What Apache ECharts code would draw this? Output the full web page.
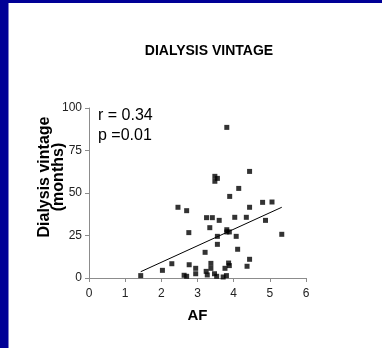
<!DOCTYPE html>
<html>
<head>
<meta charset="utf-8">
<script src="https://cdn.jsdelivr.net/npm/echarts@6/dist/echarts.min.js"></script>
<style>
  html, body { margin: 0; padding: 0; background: #ffffff; }
  #chart { width: 382px; height: 348px; }
</style>
</head>
<body>
<div id="chart"></div>
<script>
// AF vs dialysis vintage (months), one entry per patient
const afValues = [
  1.43, 2.03, 2.29, 2.46, 2.70, 2.76, 2.77, 2.63, 2.70, 2.95,
  2.95, 3.21, 3.25, 3.24, 3.27, 3.34, 3.37, 3.37, 3.41, 3.48,
  3.48, 3.55, 3.47, 3.53, 3.55, 3.55, 3.60, 3.71, 3.76, 3.81,
  3.81, 3.81, 3.80, 3.86, 3.88, 3.89, 3.88, 4.03, 4.07, 4.11,
  4.14, 4.35, 4.37, 4.44, 4.44, 4.44, 4.80, 4.88, 5.06, 5.33
];
const vintageMonths = [
  1.4, 4.5, 8.4, 41.6, 39.6, 26.7, 7.8, 1.6, 1.0, 5.7,
  2.5, 15.1, 35.5, 3.9, 1.8, 29.6, 8.6, 5.7, 35.5, 59.8,
  56.9, 58.6, 2.5, 1.0, 24.5, 19.8, 33.9, 0.6, 5.7, 88.6,
  28.4, 27.1, 1.4, 8.8, 7.3, 48.0, 27.1, 35.7, 24.5, 16.9,
  52.7, 35.7, 6.9, 62.7, 41.6, 11.0, 44.5, 33.9, 44.7, 25.7
];
// Regression line end points (AF, months)
const fitAF = [1.43, 5.33];
const fitMonths = [3.7, 41.6];

const xTicks = [0, 1, 2, 3, 4, 5, 6];
const yTicks = [0, 25, 50, 75, 100];
const statLines = ['r = 0.34', 'p =0.01'];

const points = afValues.map((a, i) => [a, vintageMonths[i]]);
const fit = fitAF.map((a, i) => [a, fitMonths[i]]);

const chart = echarts.init(document.getElementById('chart'), null, { renderer: 'canvas' });
const FONT = 'Liberation Sans, Arial, sans-serif';
const axisGrey = '#8c8c8c';

chart.setOption({
  animation: false,
  backgroundColor: '#ffffff',
  title: {
    text: 'DIALYSIS VINTAGE',
    left: 204, top: 39,
    textAlign: 'center',
    textStyle: { fontFamily: FONT, fontSize: 14, fontWeight: 'bold', color: '#000' }
  },
  grid: { left: 89, right: 76, top: 108, bottom: 70 },
  xAxis: {
    type: 'value',
    min: xTicks[0], max: xTicks[xTicks.length - 1], interval: 1,
    name: 'AF', nameLocation: 'middle', nameGap: 30,
    nameTextStyle: { fontFamily: FONT, fontSize: 15, fontWeight: 'bold', color: '#000' },
    axisLine: { show: true, onZero: false, lineStyle: { color: axisGrey, width: 1 } },
    axisTick: { show: true, inside: false, length: 4, lineStyle: { color: axisGrey } },
    axisLabel: { fontFamily: FONT, fontSize: 12, color: '#222', margin: 10 },
    splitLine: { show: false }
  },
  yAxis: {
    type: 'value',
    min: yTicks[0], max: yTicks[yTicks.length - 1], interval: 25,
    axisLine: { show: true, onZero: false, lineStyle: { color: axisGrey, width: 1 } },
    axisTick: { show: true, inside: false, length: 4, lineStyle: { color: axisGrey } },
    axisLabel: { fontFamily: FONT, fontSize: 12, color: '#222', margin: 7 },
    splitLine: { show: false }
  },
  series: [
    {
      type: 'line',
      data: fit,
      symbol: 'none',
      lineStyle: { color: '#000', width: 1 },
      z: 2
    },
    {
      type: 'scatter',
      data: points,
      symbol: 'rect',
      symbolSize: 5,
      itemStyle: { color: '#000' },
      z: 3
    }
  ],
  graphic: [
    // frame strips
    { type: 'rect', left: 0, top: 0, shape: { width: 8.5, height: 348 }, style: { fill: '#000096' } },
    { type: 'rect', left: 0, top: 0, shape: { width: 382, height: 3 }, style: { fill: '#000096' } },
    {
      type: 'text',
      x: 52, y: 177,
      rotation: Math.PI / 2,
      style: {
        text: 'Dialysis vintage\n(months)',
        font: 'bold 16px ' + FONT,
        lineHeight: 14,
        fill: '#000',
        align: 'center',
        verticalAlign: 'middle'
      }
    },
    {
      type: 'text',
      x: 98, y: 106,
      style: {
        text: statLines.join('\n'),
        font: '16px ' + FONT,
        lineHeight: 20,
        fill: '#000',
        align: 'left',
        verticalAlign: 'top'
      }
    }
  ]
});
</script>
</body>
</html>
